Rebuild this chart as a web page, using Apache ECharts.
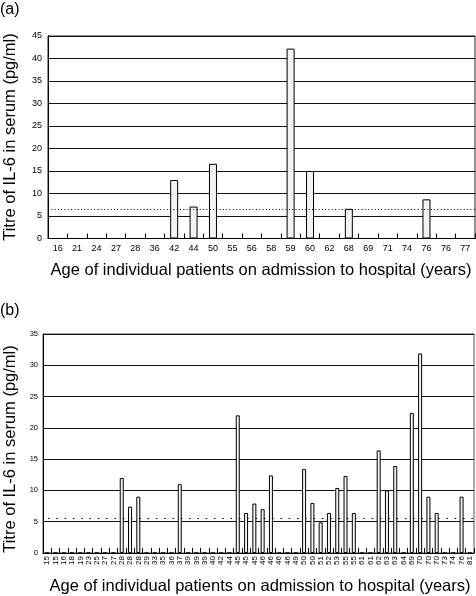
<!DOCTYPE html>
<html><head><meta charset="utf-8">
<script src="https://cdn.jsdelivr.net/npm/echarts@6/dist/echarts.min.js"></script>
<style>html,body{margin:0;padding:0;background:#fff}#c{width:476px;height:596px}</style>
</head><body><div id="c"></div><script>
// Panel (a)
const agesA = ['16','21','24','27','28','36','42','44','50','55','56','58','59','60','62','68','69','71','74','76','76','77'];
const il6A  = [0,0,0,0,0,0,13,7.1,16.6,0,0,0,42.2,15,0,6.6,0,0,0,8.7,0,0];
const cutoffA = 6.4;
// Panel (b)
const agesB = ['15','15','16','18','19','23','25','27','27','28','28','28','29','33','35','36','37','39','39','39','40','42','44','45','45','45','46','46','46','46','49','50','50','51','52','53','55','55','61','61','62','63','63','64','69','70','70','70','73','74','76','81'];
const il6B  = [0,0,0,0,0,0,0,0,0,12,7.4,9,0,0,0,0,11,0,0,0,0,0,0,22,6.4,7.9,7,12.4,0,0,0,13.4,8,4.9,6.4,10.4,12.3,6.4,0,0,16.4,10,13.9,0,22.4,31.9,9,6.4,0,0,9,0];
const cutoffB = 5.6;

const FONT = "'Liberation Sans', Arial, Helvetica, sans-serif";
const chart = echarts.init(document.getElementById('c'), null, {renderer:'canvas'});
const yTitle = 'Titre of IL-6 in serum (pg/ml)';
const xTitle = 'Age of individual patients on admission to hospital (years)';

chart.setOption({
  animation:false,
  backgroundColor:'#fff',
  textStyle:{fontFamily:FONT},
  grid:[
    {left:48, top:36, right:1, height:202.5, show:true, borderColor:'#222', borderWidth:1, backgroundColor:'transparent'},
    {left:43, top:334, right:2, height:219, show:true, borderColor:'#555', borderWidth:1, backgroundColor:'transparent'}
  ],
  xAxis:[
    {type:'category', gridIndex:0, data:agesA, boundaryGap:true,
     axisLine:{lineStyle:{color:'#000', width:1}},
     axisTick:{show:true, inside:true, length:5, lineStyle:{color:'#000'}},
     axisLabel:{interval:0, color:'#000', fontSize:9, fontFamily:FONT, margin:6}},
    {type:'category', gridIndex:1, data:agesB, boundaryGap:true,
     axisLine:{lineStyle:{color:'#000', width:1}},
     axisTick:{show:true, inside:true, length:5, lineStyle:{color:'#000'}},
     axisLabel:{interval:0, rotate:90, color:'#000', fontSize:8, fontFamily:FONT, margin:3}}
  ],
  yAxis:[
    {type:'value', gridIndex:0, min:0, max:45, interval:5,
     axisLine:{show:true, lineStyle:{color:'#000'}}, axisTick:{show:false},
     splitLine:{show:true, lineStyle:{color:'#111', width:1}},
     axisLabel:{color:'#000', fontSize:9, fontFamily:FONT, margin:6}},
    {type:'value', gridIndex:1, min:0, max:35, interval:5,
     axisLine:{show:true, lineStyle:{color:'#000'}}, axisTick:{show:false},
     splitLine:{show:true, lineStyle:{color:'#111', width:1}},
     axisLabel:{color:'#000', fontSize:7.5, fontFamily:FONT, margin:5}}
  ],
  series:[
    {type:'bar', xAxisIndex:0, yAxisIndex:0, data:il6A, barWidth:8,
     itemStyle:{color:'#f3f3f3', borderColor:'#000', borderWidth:1},
     markLine:{silent:true, symbol:['none','none'], label:{show:false},
       lineStyle:{type:[1,2.3], color:'#000', width:1}, data:[{yAxis:cutoffA}]}},
    {type:'bar', xAxisIndex:1, yAxisIndex:1, data:il6B, barWidth:4,
     itemStyle:{color:'#f3f3f3', borderColor:'#000', borderWidth:1},
     markLine:{silent:true, symbol:['none','none'], label:{show:false},
       lineStyle:{type:[1.5,6.8], dashOffset:-5, color:'#000', width:1}, data:[{yAxis:cutoffB}]}}
  ],
  graphic:[
    {type:'text', x:0, y:2, style:{text:'(a)', font:'16px '+FONT, fill:'#000'}},
    {type:'text', x:0, y:303, style:{text:'(b)', font:'16px '+FONT, fill:'#000'}},
    {type:'text', x:10, y:137, rotation:Math.PI/2,
     style:{text:yTitle, font:'16.5px '+FONT, fill:'#000', align:'center', verticalAlign:'middle', textAlign:'center', textVerticalAlign:'middle'}},
    {type:'text', x:10, y:449, rotation:Math.PI/2,
     style:{text:yTitle, font:'16.5px '+FONT, fill:'#000', align:'center', verticalAlign:'middle', textAlign:'center', textVerticalAlign:'middle'}},
    {type:'text', x:261, y:270,
     style:{text:xTitle, font:'16.5px '+FONT, fill:'#000', align:'center', verticalAlign:'middle', textAlign:'center', textVerticalAlign:'middle'}},
    {type:'text', x:260, y:586,
     style:{text:xTitle, font:'16.5px '+FONT, fill:'#000', align:'center', verticalAlign:'middle', textAlign:'center', textVerticalAlign:'middle'}}
  ]
});
</script></body></html>
